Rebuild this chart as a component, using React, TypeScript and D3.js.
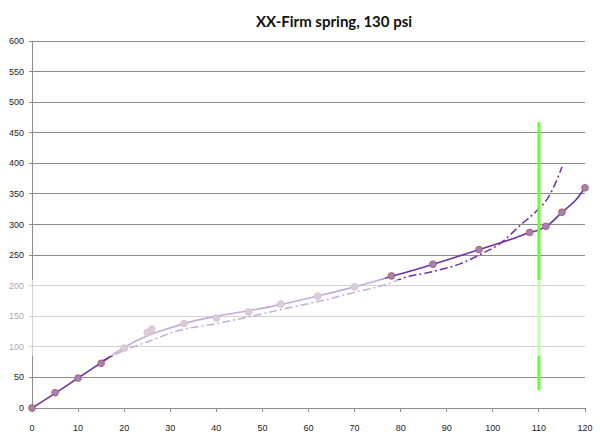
import React from "react";
import * as d3 from "d3";

const title = "XX-Firm spring, 130 psi";

const xTicks = [0, 10, 20, 30, 40, 50, 60, 70, 80, 90, 100, 110, 120];
const yTicks = [0, 50, 100, 150, 200, 250, 300, 350, 400, 450, 500, 550, 600];

// measured points
const pointX = [0, 5, 10, 15, 20, 25, 26, 33, 40, 47, 54, 62, 70, 78, 87, 97, 108, 111.5, 115, 120];
const pointY = [0, 25, 49, 73, 98, 123, 129, 138, 147, 157, 170, 183, 198, 216, 235, 259, 287, 297, 320, 360];

// solid trend curve
const solidX = [0, 5, 10, 15, 20, 25, 30, 35, 40, 47, 54, 62, 70, 78, 84, 90, 97, 104, 108, 110, 112, 115, 118, 120];
const solidY = [0, 24, 49, 74, 99, 118, 131, 142, 150, 159, 169, 183, 198, 215, 228, 242, 259, 276, 287, 291, 299, 320, 340, 360];

// dash-dot trend curve
const dashX = [15, 20, 25, 32, 40, 47, 54, 62, 70, 78, 80, 87.5, 93, 97, 101.6, 106, 110, 112, 113.5, 115];
const dashY = [76, 94, 108, 127, 138, 149, 161, 174, 189, 205, 211, 224, 236, 250, 269, 299, 326, 344, 366, 394];

// green marker line
const markerX = [110, 110];
const markerY = [29, 467];

export default function App() {
  const W = 600, H = 435;
  const x = d3.scaleLinear().domain([0, 120]).range([32, 585]);
  const y = d3.scaleLinear().domain([0, 600]).range([408, 41]);

  const line = d3
    .line<[number, number]>()
    .x((d) => x(d[0]))
    .y((d) => y(d[1]))
    .curve(d3.curveMonotoneX);

  const solidPath = line(solidX.map((v, i) => [v, solidY[i]]) as [number, number][]) || "";
  const dashPath = line(dashX.map((v, i) => [v, dashY[i]]) as [number, number][]) || "";
  const font = "'Liberation Sans', Arial, sans-serif";
  const purple = "#7030A0";

  return (
    <svg width={W} height={H} style={{ position: "absolute", left: 0, top: 0, background: "#fff" }}>
      <rect x={0} y={0} width={W} height={H} fill="#fff" />
      <text x={334} y={27} textAnchor="middle" fontFamily="Lato, 'Liberation Sans', sans-serif" fontWeight="bold" fontSize={15} fill="#111">
        {title}
      </text>
      {yTicks.map((t) => (
        <g key={"y" + t}>
          <line x1={29} x2={585} y1={y(t)} y2={y(t)} stroke="#8c8c8c" strokeWidth={1} shapeRendering="crispEdges" />
          <text x={24} y={y(t) + 3} textAnchor="end" fontFamily={font} fontSize={9} fill="#222">
            {t}
          </text>
        </g>
      ))}
      <line x1={32} x2={32} y1={y(600)} y2={y(0)} stroke="#8c8c8c" shapeRendering="crispEdges" />
      {xTicks.map((t) => (
        <g key={"x" + t}>
          <line x1={x(t)} x2={x(t)} y1={y(0)} y2={y(0) + 4} stroke="#8c8c8c" shapeRendering="crispEdges" />
          <text x={x(t)} y={431} textAnchor="middle" fontFamily={font} fontSize={9} fill="#222">
            {t}
          </text>
        </g>
      ))}
      <path d={dashPath} fill="none" stroke={purple} strokeWidth={1.5} strokeDasharray="8,3,2,3" />
      <path d={solidPath} fill="none" stroke={purple} strokeWidth={1.6} />
      {pointX.map((v, i) => (
        <circle key={"p" + i} cx={x(v)} cy={y(pointY[i])} r={3.4} fill="#9a85bc" stroke="#c0504d" strokeWidth={0.8} />
      ))}
      <line x1={x(markerX[0])} x2={x(markerX[1])} y1={y(markerY[0])} y2={y(markerY[1])} stroke="#66ff33" strokeWidth={3} />
      {/* watermark haze */}
      <rect x={0} y={280} width={600} height={76} fill="#fff" opacity={0.6} />
      <rect x={100} y={258} width={285} height={22} fill="#fff" opacity={0.5} />
    </svg>
  );
}
